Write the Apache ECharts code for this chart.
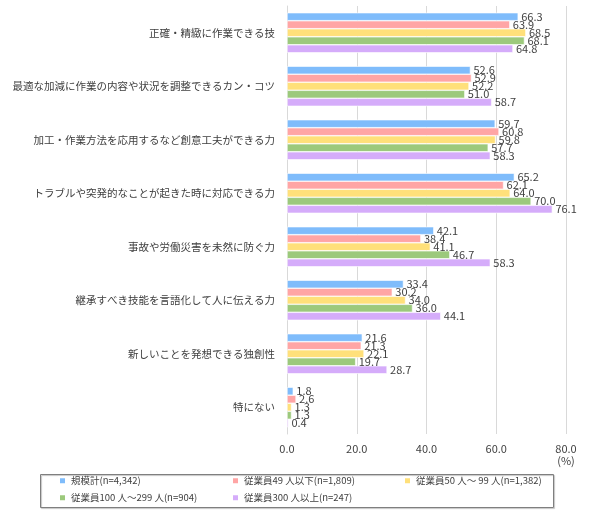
<!DOCTYPE html>
<html lang="ja">
<head>
<meta charset="UTF-8">
<title>技能</title>
<script src="https://cdn.jsdelivr.net/npm/echarts@6/dist/echarts.min.js"></script>
<style>
  html, body { margin: 0; padding: 0; background: #fff; }
  #main { width: 590px; height: 522px; }
</style>
</head>
<body>
<div id="main"></div>
<script>
// 項目
let categories = [
    '正確・精緻に作業できる技',
    '最適な加減に作業の内容や状況を調整できるカン・コツ',
    '加工・作業方法を応用するなど創意工夫ができる力',
    'トラブルや突発的なことが起きた時に対応できる力',
    '事故や労働災害を未然に防ぐ力',
    '継承すべき技能を言語化して人に伝える力',
    '新しいことを発想できる独創性',
    '特にない'
];
let seriesNames = [
    '規模計(n=4,342)',
    '従業員49 人以下(n=1,809)',
    '従業員50 人～ 99 人(n=1,382)',
    '従業員100 人～299 人(n=904)',
    '従業員300 人以上(n=247)'
];
let total  = [66.3, 52.6, 59.7, 65.2, 42.1, 33.4, 21.6, 1.8];
let under49 = [63.9, 52.9, 60.8, 62.1, 38.4, 30.2, 21.3, 2.6];
let s50to99 = [68.5, 52.2, 59.8, 64.0, 41.1, 34.0, 22.1, 1.3];
let s100to299 = [68.1, 51.0, 57.7, 70.0, 46.7, 36.0, 19.7, 1.3];
let over300 = [64.8, 58.7, 58.3, 76.1, 58.3, 44.1, 28.7, 0.4];
let xTicks = [0, 20, 40, 60, 80];

let colors = ['#7fbcfb', '#ffa5a5', '#ffe07a', '#9cc97c', '#d5acfa'];
let font = '"Noto Sans CJK JP", sans-serif';

let chart = echarts.init(document.getElementById('main'));
let values = [total, under49, s50to99, s100to299, over300];

let series = values.map(function (v, i) {
    return {
        name: seriesNames[i],
        type: 'bar',
        data: v,
        barGap: '0%',
        barCategoryGap: '25%',
        itemStyle: { color: colors[i], borderColor: '#fff', borderWidth: 0.6 },
        label: {
            show: true,
            position: 'right',
            distance: 3,
            color: '#404040',
            fontSize: 11,
            fontFamily: font,
            formatter: function (p) { return p.value.toFixed(1); }
        }
    };
});

// 凡例は3列に並べる
let legendPos = [[58, 476], [231, 476], [403, 476], [58, 493], [231, 493]];
let legends = seriesNames.map(function (n, i) {
    return {
        data: [n],
        left: legendPos[i][0],
        top: legendPos[i][1],
        padding: 0,
        itemWidth: 7,
        itemHeight: 7,
        itemGap: 4,
        icon: 'rect',
        textStyle: { color: '#404040', fontSize: 9.5, fontFamily: font }
    };
});

let option = {
    backgroundColor: '#ffffff',
    animation: false,
    color: colors,
    grid: { left: 287, right: 24, top: 6, bottom: 88, containLabel: false },
    xAxis: {
        type: 'value',
        min: xTicks[0],
        max: xTicks[xTicks.length - 1],
        interval: 20,
        axisLine: { show: false },
        axisTick: { show: false },
        splitLine: { lineStyle: { color: '#d9d9d9', width: 1 } },
        axisLabel: {
            color: '#404040',
            fontSize: 11,
            fontFamily: font,
            margin: 9,
            lineHeight: 12,
            formatter: function (v) { return v === 80 ? '80.0\n(%)' : v.toFixed(1); }
        }
    },
    yAxis: {
        type: 'category',
        data: categories,
        inverse: true,
        axisLine: { show: true, lineStyle: { color: '#d9d9d9' } },
        axisTick: { show: false },
        axisLabel: { color: '#404040', fontSize: 10.5, fontFamily: font, margin: 12 }
    },
    legend: legends,
    graphic: [{
        type: 'rect',
        shape: { x: 40.5, y: 474.5, width: 513, height: 33 },
        style: { fill: 'none', stroke: '#7f7f7f', lineWidth: 1, shadowColor: 'rgba(0,0,0,0.25)', shadowOffsetX: 1, shadowOffsetY: 1, shadowBlur: 1 }
    }],
    series: series
};
chart.setOption(option);
</script>
</body>
</html>
